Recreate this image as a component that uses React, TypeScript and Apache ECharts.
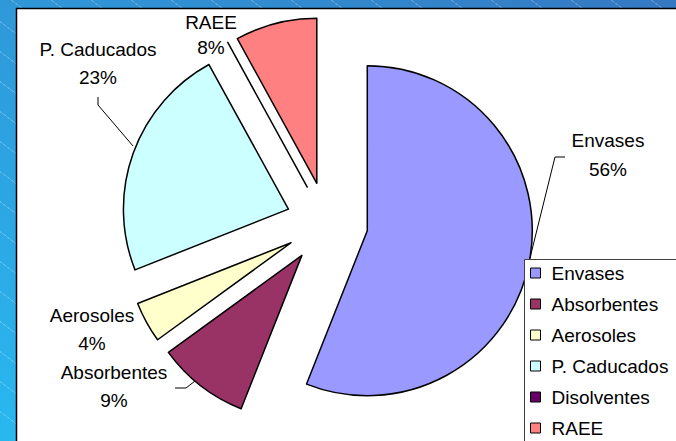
import React, { useEffect, useRef } from "react";
import * as echarts from "echarts";

const categories = ["Envases", "Absorbentes", "Aerosoles", "P. Caducados", "Disolventes", "RAEE"];
const values = [56, 9, 4, 23, 0, 8];
const colors = ["#9999FF", "#993366", "#FFFFCC", "#CCFFFF", "#660066", "#FF8080"];

// label placement (centre of the two-line label) and leader lines, in page pixels
const labelPos: Record<string, { x: number; y: number; lh: number; line?: number[][] }> = {
  Envases: { x: 608, y: 155, lh: 29, line: [[530, 258], [555, 157], [565, 157]] },
  Absorbentes: { x: 114, y: 386, lh: 28, line: [[195, 381], [186, 388], [175, 388]] },
  Aerosoles: { x: 92, y: 329, lh: 28 },
  "P. Caducados": { x: 98, y: 63, lh: 28, line: [[133, 146], [98, 105], [98, 97]] },
  RAEE: { x: 211, y: 35, lh: 25 },
};

const FONT = "'Liberation Sans', Arial, sans-serif";
const OFFSET = 41;

export default function App() {
  const ref = useRef<HTMLDivElement>(null);
  useEffect(() => {
    if (!ref.current) return;
    const chart = echarts.init(ref.current, undefined, { renderer: "svg" });
    const total = values.reduce((a, b) => a + b, 0);
    const labelGraphics: any[] = [];
    categories.forEach((name, i) => {
      const p = labelPos[name];
      if (!p) return;
      const pct = Math.round((values[i] / total) * 100);
      labelGraphics.push({
        type: "text",
        z: 6,
        x: p.x,
        y: p.y,
        style: {
          text: `${name}\n${pct}%`,
          fontFamily: FONT,
          fontSize: 19,
          lineHeight: p.lh,
          fill: "#000",
          align: "center",
          verticalAlign: "middle",
        },
      });
      if (p.line) {
        labelGraphics.push({
          type: "polyline",
          z: 6,
          shape: { points: p.line },
          style: { stroke: "#000", lineWidth: 1, fill: null },
        });
      }
    });
    const data = categories.map((name, i) => ({
      name,
      value: values[i],
      selected: true,
      itemStyle: { color: colors[i] },
    }));
    chart.setOption({
      animation: false,
      backgroundColor: "transparent",
      graphic: [
        {
          type: "rect",
          z: -10,
          shape: { x: 16.5, y: 8.5, width: 700, height: 500 },
          style: { fill: "#ffffff", stroke: "#000000", lineWidth: 1.5 },
        },
        {
          type: "rect",
          z: 3,
          shape: { x: 524.5, y: 259.5, width: 200, height: 220 },
          style: { fill: "#ffffff", stroke: "#404040", lineWidth: 1 },
        },
        ...labelGraphics,
      ],
      legend: {
        orient: "vertical",
        left: 524,
        top: 260,
        padding: [3, 12, 0, 6],
        itemGap: 11,
        itemWidth: 10,
        itemHeight: 10,
        icon: "rect",
        z: 5,
        itemStyle: { borderColor: "#000", borderWidth: 1 },
        textStyle: { fontFamily: FONT, fontSize: 19, color: "#000", lineHeight: 20, padding: [0, 0, 0, 6] },
        data: categories,
      },
      series: [
        {
          type: "pie",
          center: [327, 223],
          radius: 165,
          startAngle: 90,
          clockwise: true,
          selectedMode: "multiple",
          selectedOffset: OFFSET,
          avoidLabelOverlap: false,
          emphasis: { disabled: true },
          itemStyle: { borderColor: "#000", borderWidth: 1.5 },
          select: { itemStyle: { borderColor: "#000", borderWidth: 1.5 } },
          label: { show: false },
          labelLine: { show: false },
          data,
        },
      ],
    });
    return () => chart.dispose();
  }, []);
  return (
    <div
      ref={ref}
      style={{
        position: "absolute",
        left: 0,
        top: 0,
        width: 676,
        height: 441,
        background:
          "repeating-linear-gradient(36.87deg, rgba(255,255,255,0) 0px, rgba(255,255,255,0) 23px, rgba(255,255,255,0.2) 23px, rgba(255,255,255,0.2) 24px), linear-gradient(to top right, #29b8f0, #3578c2)",
      }}
    />
  );
}
